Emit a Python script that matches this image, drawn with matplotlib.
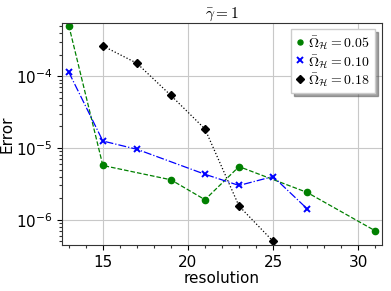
import numpy as np
import matplotlib
matplotlib.use('Agg')
import matplotlib.pyplot as plt
from matplotlib.ticker import MultipleLocator, FixedLocator, NullFormatter

plt.rcParams['mathtext.fontset'] = 'cm'

# data
res_a = [13, 15, 19, 21, 23, 27, 31]
err_a = [5.1e-4, 5.7e-6, 3.6e-6, 1.9e-6, 5.5e-6, 2.4e-6, 7.0e-7]

res_b = [13, 15, 17, 21, 23, 25, 27]
err_b = [1.14e-4, 1.25e-5, 9.6e-6, 4.3e-6, 3.0e-6, 4.0e-6, 1.42e-6]

res_c = [15, 17, 19, 21, 23, 25]
err_c = [2.65e-4, 1.52e-4, 5.4e-5, 1.84e-5, 1.55e-6, 5.0e-7]

labels = [r'$\bar{\Omega}_{\mathcal{H}}=0.05$',
          r'$\bar{\Omega}_{\mathcal{H}}=0.10$',
          r'$\bar{\Omega}_{\mathcal{H}}=0.18$']

fig = plt.figure(figsize=(3.91, 2.91), dpi=100)
ax = fig.add_axes([62/391, 1 - 245/291, 320/391, 222/291])

ax.plot(res_a, err_a, color='green', linestyle='--', marker='o', markersize=4.5, linewidth=0.9, label=labels[0])
ax.plot(res_b, err_b, color='blue', linestyle='-.', marker='x', markersize=5, markeredgewidth=1.4, linewidth=0.9, label=labels[1])
ax.plot(res_c, err_c, color='black', linestyle=':', marker='D', markersize=4.5, linewidth=0.9, label=labels[2])

ax.set_yscale('log')
ax.set_xlim(12.6, 31.4)
ax.set_ylim(10**-6.353, 10**-3.257)
ax.xaxis.set_minor_locator(MultipleLocator(1))
minor_y = [m * 10.0**e for e in range(-7, -2) for m in range(2, 10)]
ax.yaxis.set_minor_locator(FixedLocator(minor_y))
ax.yaxis.set_minor_formatter(NullFormatter())

ax.grid(True, which='major', color='#c8c8c8', linewidth=0.8)
ax.tick_params(which='major', length=3.5, labelsize=11)
ax.tick_params(which='minor', length=2.5, width=0.8, color='#333333')
for s in ax.spines.values():
    s.set_color('#333333')

ax.set_xlabel('resolution', fontsize=11, labelpad=1)
ax.set_ylabel('Error', fontsize=11, labelpad=1)
ax.set_title(r'$\bar{\gamma}=1$', fontsize=11, pad=4)

leg = ax.legend(loc='upper right', fontsize=10, handlelength=0.5, handletextpad=0.3,
                borderpad=0.4, labelspacing=0.1, fancybox=False, shadow=True,
                framealpha=1, edgecolor='#cccccc', markerscale=0.8,
                borderaxespad=0, bbox_to_anchor=(0.978, 0.973))
for h in leg.legend_handles:
    h.set_linestyle('')

fig.savefig('out.png', dpi=100)
